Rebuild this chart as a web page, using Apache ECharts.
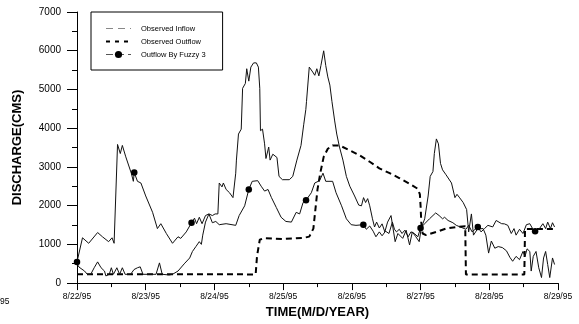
<!DOCTYPE html>
<html><head><meta charset="utf-8">
<script src="https://cdn.jsdelivr.net/npm/echarts@6/dist/echarts.min.js"></script>
<style>html,body{margin:0;padding:0;background:#fff}#c{width:579px;height:324px}</style>
</head><body><div id="c"></div>
<script>
// x = days after 8/22/95 00:00
const tickLabels = ['8/22/95','8/23/95','8/24/95','8/25/95','8/26/95','8/27/95','8/28/95','8/29/95'];
const clippedLabel = '8/21/95';
const seriesNames = ['Observed Inflow','Observed Outflow','Outflow By Fuzzy 3'];

const inflowPoints = [[0,500],[0.03,412],[0.11,311],[0.15,227],[0.20,227],[0.25,396],[0.30,548],[0.35,396],[0.40,311],[0.42,185],[0.47,227],[0.50,396],[0.53,227],[0.58,396],[0.62,227],[0.66,396],[0.70,227],[0.78,227],[0.83,350],[0.88,396],[0.92,420],[0.96,227],[1.15,227],[1.20,522],[1.24,227],[1.34,210],[1.39,227],[1.47,311],[1.56,497],[1.64,649],[1.68,817],[1.73,943],[1.78,1070],[1.81,1000],[1.83,1238],[1.87,1575],[1.92,1786],[1.97,1744],[2.01,1786],[2.05,1786],[2.07,2585],[2.11,2484],[2.13,2585],[2.17,2418],[2.22,2333],[2.27,2207],[2.31,2838],[2.32,3176],[2.35,3849],[2.39,3975],[2.41,5029],[2.45,5155],[2.47,5535],[2.50,5215],[2.53,5577],[2.57,5686],[2.61,5686],[2.64,5577],[2.66,5029],[2.67,3935],[2.70,3975],[2.73,3596],[2.75,3217],[2.79,3513],[2.81,3176],[2.85,3328],[2.91,3243],[2.94,2755],[2.99,2670],[3.09,2670],[3.14,2755],[3.20,3176],[3.26,3555],[3.30,4102],[3.33,4481],[3.34,4692],[3.38,5577],[3.43,5451],[3.46,5366],[3.49,5535],[3.52,5350],[3.55,5619],[3.59,5998],[3.62,5619],[3.65,5324],[3.68,5113],[3.71,4692],[3.75,4187],[3.78,3849],[3.82,3513],[3.87,3176],[3.92,2755],[3.97,2502],[4.04,2249],[4.10,2014],[4.14,1996],[4.17,2207],[4.20,2080],[4.23,2181],[4.26,1996],[4.30,1660],[4.33,1449],[4.36,1575],[4.40,1423],[4.44,1530],[4.48,1322],[4.52,1575],[4.57,1744],[4.63,1070],[4.67,1281],[4.74,1155],[4.79,1365],[4.84,985],[4.88,1322],[4.93,1200],[4.98,1070],[5.01,1423],[5.06,1660],[5.11,2249],[5.14,2755],[5.18,2881],[5.20,3344],[5.23,3723],[5.26,3596],[5.29,3091],[5.32,2924],[5.37,2798],[5.45,2585],[5.50,2207],[5.53,2292],[5.57,2200],[5.62,2080],[5.67,1900],[5.70,1322],[5.74,1786],[5.77,1238],[5.83,1400],[5.91,1407],[5.95,1238],[5.99,775],[6.03,1087],[6.08,901],[6.13,943],[6.19,918],[6.25,834],[6.30,665],[6.34,564],[6.39,690],[6.44,606],[6.49,817],[6.52,690],[6.55,884],[6.59,817],[6.61,311],[6.64,690],[6.68,817],[6.72,396],[6.76,143],[6.79,649],[6.82,817],[6.85,480],[6.88,143],[6.92,649],[6.95,480]];

const outflowPoints = [[0,230],[2.60,225],[2.62,700],[2.66,1120],[2.72,1160],[3.00,1140],[3.30,1170],[3.38,1200],[3.44,1407],[3.47,1912],[3.50,2418],[3.54,2838],[3.59,3260],[3.65,3470],[3.72,3555],[3.82,3555],[3.97,3429],[4.11,3302],[4.26,3133],[4.40,2964],[4.55,2838],[4.69,2712],[4.86,2545],[4.96,2434],[4.99,2292],[5.00,1996],[5.01,1575],[5.03,1281],[5.08,1238],[5.23,1322],[5.37,1407],[5.52,1449],[5.65,1470],[5.66,225],[6.51,225],[6.52,1400],[6.95,1400]];

const fuzzyPoints = [[0,548],[0.08,1170],[0.17,1028],[0.30,1306],[0.37,1196],[0.46,1070],[0.51,1170],[0.54,1028],[0.59,3580],[0.63,3345],[0.66,3555],[0.71,3260],[0.79,2838],[0.82,2628],[0.833,2856],[0.88,2628],[0.93,2585],[1.00,2250],[1.10,1827],[1.17,1407],[1.22,1534],[1.30,1281],[1.39,1028],[1.47,1196],[1.51,1155],[1.59,1322],[1.667,1559],[1.71,1676],[1.74,1534],[1.78,1700],[1.82,1534],[1.87,1744],[1.92,1786],[1.97,1559],[2.02,1592],[2.07,1508],[2.17,1534],[2.31,1491],[2.36,1744],[2.44,1996],[2.5,2418],[2.55,2628],[2.63,2645],[2.68,2502],[2.73,2376],[2.78,2418],[2.83,2207],[2.90,1954],[2.97,1700],[3.04,1592],[3.12,1575],[3.19,1827],[3.24,1786],[3.29,2080],[3.333,2140],[3.41,2333],[3.46,2585],[3.53,2645],[3.58,2838],[3.62,2628],[3.72,2628],[3.77,2333],[3.85,1996],[3.92,1660],[3.99,1508],[4.06,1491],[4.167,1508],[4.21,1390],[4.26,1474],[4.31,1340],[4.35,1196],[4.40,1322],[4.44,1222],[4.49,1340],[4.54,1281],[4.59,1575],[4.62,1390],[4.65,1322],[4.69,1390],[4.73,1281],[4.77,1365],[4.82,1196],[4.86,1322],[4.91,1281],[4.96,1196],[5.0,1423],[5.06,1534],[5.13,1660],[5.22,1812],[5.27,1744],[5.32,1660],[5.35,1700],[5.40,1617],[5.47,1559],[5.52,1491],[5.66,1390],[5.70,1491],[5.75,1322],[5.833,1449],[5.88,1322],[5.93,1407],[5.98,1491],[6.05,1450],[6.10,1617],[6.18,1534],[6.22,1530],[6.27,1491],[6.32,1281],[6.36,1407],[6.39,1238],[6.44,1390],[6.49,1281],[6.54,1508],[6.59,1534],[6.63,1407],[6.667,1340],[6.73,1407],[6.78,1534],[6.82,1407],[6.85,1575],[6.89,1407],[6.92,1559],[6.95,1449]];

const fuzzyDotDays = [0, 0.833, 1.667, 2.5, 3.333, 4.167, 5.0, 5.833, 6.667];

const FONT = '"Liberation Sans", Arial, sans-serif';
const INK = '#111';
const chart = echarts.init(document.getElementById('c'), null, {renderer: 'canvas'});
chart.setOption({
  animation: false,
  backgroundColor: '#fff',
  grid: {left: 77, right: 21, top: 12, bottom: 35},
  xAxis: {
    type: 'value', min: 0, max: 7, interval: 1,
    axisLine: {onZero: false, lineStyle: {color: '#000', width: 1}},
    axisTick: {length: 7, lineStyle: {color: '#000'}},
    minorTick: {show: true, splitNumber: 2, length: 4, lineStyle: {color: '#000'}},
    splitLine: {show: false},
    axisLabel: {formatter: v => tickLabels[Math.round(v)], fontSize: 8.5, color: '#000', margin: 9, fontFamily: FONT},
    name: 'TIME(M/D/YEAR)', nameLocation: 'middle', nameGap: 20,
    nameTextStyle: {fontSize: 13, fontWeight: 'bold', color: '#000', fontFamily: FONT}
  },
  yAxis: {
    type: 'value', min: 0, max: 7000, interval: 1000,
    axisLine: {show: true, onZero: false, lineStyle: {color: '#000', width: 1}},
    axisTick: {show: true, length: 10, lineStyle: {color: '#000'}},
    minorTick: {show: true, splitNumber: 2, length: 5, lineStyle: {color: '#000'}},
    splitLine: {show: false},
    axisLabel: {formatter: v => String(v), fontSize: 10, color: '#000', margin: 16, fontFamily: FONT},
    name: 'DISCHARGE(CMS)', nameLocation: 'middle', nameGap: 53, nameRotate: 90,
    nameTextStyle: {fontSize: 13, fontWeight: 'bold', color: '#000', fontFamily: FONT}
  },
  legend: {
    orient: 'vertical', left: 91, top: 12,
    padding: [12, 17, 11, 14],
    itemGap: 4, itemWidth: 25, itemHeight: 9,
    borderColor: '#000', borderWidth: 1,
    textStyle: {fontSize: 7.5, color: '#000', fontFamily: FONT, lineHeight: 9, padding: [0, 0, 0, 5]},
    data: [
      {name: seriesNames[0], lineStyle: {color: '#888', width: 1, type: [7, 5]}, itemStyle: {color: 'rgba(0,0,0,0)', borderWidth: 0}},
      {name: seriesNames[1], lineStyle: {color: '#000', width: 2, type: [4, 5]}, itemStyle: {color: 'rgba(0,0,0,0)', borderWidth: 0}},
      {name: seriesNames[2], lineStyle: {color: '#555', width: 1, type: [7, 4]}}
    ]
  },
  graphic: [{
    type: 'text', x: 9.5, y: 302,
    style: {text: clippedLabel, fill: '#000', font: '8.5px "Liberation Sans", Arial, sans-serif', align: 'right', verticalAlign: 'middle', textAlign: 'right', textVerticalAlign: 'middle'}
  }],
  series: [
    {name: seriesNames[1], type: 'line', data: outflowPoints, symbol: 'none', z: 2,
     lineStyle: {color: '#000', width: 2, type: [6, 4]}, itemStyle: {color: '#000'}},
    {name: seriesNames[0], type: 'line', data: inflowPoints, symbol: 'none', z: 3,
     lineStyle: {color: INK, width: 1}, itemStyle: {color: INK}},
    {name: seriesNames[2], type: 'line', data: fuzzyPoints, symbol: 'circle', z: 4,
     symbolSize: v => fuzzyDotDays.includes(v[0]) ? 6.5 : 0,
     lineStyle: {color: INK, width: 1}, itemStyle: {color: '#000'}}
  ]
});
</script></body></html>
